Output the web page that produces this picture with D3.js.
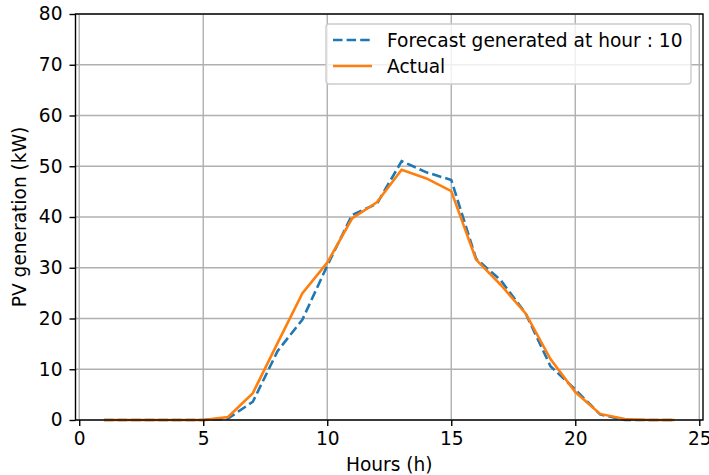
<!DOCTYPE html>
<html>
<head>
<script src="https://d3js.org/d3.v7.min.js"></script>
<style>
  body { margin: 0; background: #fff; }
  text { font-family: "DejaVu Sans", sans-serif; fill: #000; }
  .grid line { stroke: #b0b0b0; stroke-width: 1.4px; }
</style>
</head>
<body>
<svg width="709" height="475"></svg>
<script>
var hours = d3.range(1, 25);
var forecast = [0, 0, 0, 0, 0, 0.3, 3.6, 13.6, 19.8, 30.4, 40.4, 42.6, 51.0, 48.8, 47.3, 31.8, 27.5, 21.0, 10.6, 6.0, 1.1, 0, 0, 0];
var actual   = [0, 0, 0, 0, 0, 0.6, 5.3, 15.2, 25.0, 31.0, 39.7, 42.9, 49.3, 47.6, 45.1, 31.6, 26.6, 21.0, 12.0, 5.5, 1.2, 0.2, 0, 0];
var xTicks = [0, 5, 10, 15, 20, 25];
var yTicks = [0, 10, 20, 30, 40, 50, 60, 70, 80];
var seriesNames = ["Forecast generated at hour : 10", "Actual"];
var colors = ["#1f77b4", "#ff7f0e"];

var svg = d3.select("svg"),
    plotL = 75.5, plotR = 703, plotT = 14, plotB = 420,
    fontSize = 18.6;

var x = d3.scaleLinear().domain([-0.15, 25.15]).range([plotL, plotR]);
var y = d3.scaleLinear().domain([0, 80]).range([plotB, plotT]);

// grid
var grid = svg.append("g").attr("class", "grid");
grid.selectAll(".gx").data(xTicks).enter().append("line")
    .attr("x1", d => x(d)).attr("x2", d => x(d))
    .attr("y1", plotT).attr("y2", plotB);
grid.selectAll(".gy").data(yTicks).enter().append("line")
    .attr("x1", plotL).attr("x2", plotR)
    .attr("y1", d => y(d)).attr("y2", d => y(d));

// lines
var line = d3.line().x((d, i) => x(hours[i])).y(d => y(d));
svg.append("path").datum(forecast)
    .attr("d", line).attr("fill", "none")
    .attr("stroke", colors[0]).attr("stroke-width", 2.6)
    .attr("stroke-dasharray", "9.5,4.1");
svg.append("path").datum(actual)
    .attr("d", line).attr("fill", "none")
    .attr("stroke", colors[1]).attr("stroke-width", 2.6);

// axes
var xAxis = svg.append("g").attr("transform", "translate(0," + plotB + ")")
    .call(d3.axisBottom(x).tickValues(xTicks).tickSize(6).tickPadding(6));
var yAxis = svg.append("g").attr("transform", "translate(" + plotL + ",0)")
    .call(d3.axisLeft(y).tickValues(yTicks).tickSize(6).tickPadding(7));
[xAxis, yAxis].forEach(function(a) {
  a.select(".domain").remove();
  a.selectAll("line").attr("stroke", "#000").attr("stroke-width", 1.4);
  a.selectAll("text").attr("font-size", fontSize).style("font-family", "DejaVu Sans").attr("fill", "#000");
});

// spines
svg.append("rect").attr("x", plotL).attr("y", plotT)
    .attr("width", plotR - plotL).attr("height", plotB - plotT)
    .attr("fill", "none").attr("stroke", "#000").attr("stroke-width", 1.4);

// labels
svg.append("text").attr("x", (plotL + plotR) / 2).attr("y", 471)
    .attr("text-anchor", "middle").attr("font-size", fontSize).text("Hours (h)");
svg.append("text").attr("transform", "translate(26," + (plotT + plotB) / 2 + ") rotate(-90)")
    .attr("text-anchor", "middle").attr("font-size", fontSize).text("PV generation (kW)");

// legend
var lg = svg.append("g").attr("transform", "translate(326,24)");
lg.append("rect").attr("width", 365).attr("height", 60).attr("rx", 3)
    .attr("fill", "#fff").attr("fill-opacity", 0.8)
    .attr("stroke", "#ccc").attr("stroke-width", 1.4);
seriesNames.forEach(function(name, i) {
  var ly = 16 + i * 26;
  lg.append("line").attr("x1", 7).attr("x2", 46).attr("y1", ly).attr("y2", ly)
      .attr("stroke", colors[i]).attr("stroke-width", 2.6)
      .attr("stroke-dasharray", i === 0 ? "9.5,4.1" : null);
  lg.append("text").attr("x", 61).attr("y", ly).attr("dy", "0.35em")
      .attr("font-size", fontSize).text(name);
});
</script>
</body>
</html>
